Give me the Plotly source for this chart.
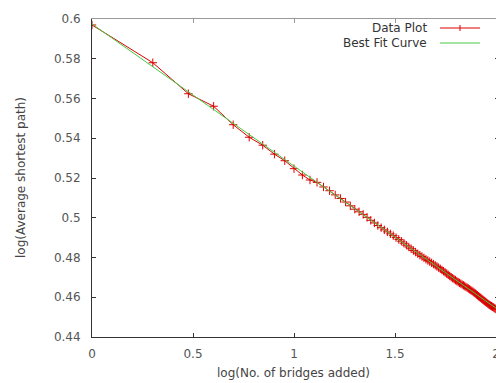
import numpy as np
import plotly.graph_objects as go

bridges = list(range(1, 101))
avg_path_log = [
    0.5970, 0.5780, 0.5624, 0.5561, 0.5468, 0.5405, 0.5365, 0.5320, 0.5287, 0.5247,
    0.5215, 0.5190, 0.5178, 0.5155, 0.5136, 0.5115, 0.5097, 0.5079, 0.5060, 0.5043,
    0.5030, 0.5017, 0.5002, 0.4987, 0.4974, 0.4961, 0.4950, 0.4939, 0.4929, 0.4919,
    0.4910, 0.4900, 0.4891, 0.4882, 0.4872, 0.4862, 0.4853, 0.4844, 0.4835, 0.4827,
    0.4819, 0.4812, 0.4805, 0.4798, 0.4791, 0.4785, 0.4779, 0.4773, 0.4767, 0.4761,
    0.4755, 0.4749, 0.4743, 0.4737, 0.4731, 0.4725, 0.4719, 0.4713, 0.4707, 0.4701,
    0.4696, 0.4691, 0.4686, 0.4681, 0.4676, 0.4672, 0.4668, 0.4664, 0.4660, 0.4656,
    0.4652, 0.4648, 0.4644, 0.4640, 0.4636, 0.4632, 0.4628, 0.4623, 0.4619, 0.4614,
    0.4610, 0.4605, 0.4601, 0.4597, 0.4592, 0.4588, 0.4584, 0.4580, 0.4576, 0.4572,
    0.4568, 0.4564, 0.4561, 0.4558, 0.4555, 0.4552, 0.4549, 0.4546, 0.4543, 0.4540,
]
fit_x = [0.0, 2.0]
fit_y = [0.5975, 0.4545]

x_ticks = [0, 0.5, 1, 1.5, 2]
x_tick_labels = ["0", "0.5", "1", "1.5", "2"]
y_ticks = [0.44, 0.46, 0.48, 0.5, 0.52, 0.54, 0.56, 0.58, 0.6]
y_tick_labels = ["0.44", "0.46", "0.48", "0.5", "0.52", "0.54", "0.56", "0.58", "0.6"]

RED = "#dd0000"
GREEN = "#44cc44"
FONT = "DejaVu Sans"

# figure slightly wider than the window so the right frame falls off-screen
FW, FH = 504, 383
L, T, R, B = 92, 19, 499, 337
PW, PH = R - L, B - T
X_MAX = 2 * PW / 404  # x=2 lands at pixel 496

data_x = np.log10(bridges)

fig = go.Figure()
fig.add_trace(go.Scatter(
    x=data_x, y=avg_path_log, mode="lines+markers", name="Data Plot",
    line=dict(color=RED, width=1),
    marker=dict(symbol="cross-thin", size=6, line=dict(color=RED, width=1)),
))
fig.add_trace(go.Scatter(
    x=fit_x, y=fit_y, mode="lines", name="Best Fit Curve",
    line=dict(color=GREEN, width=1),
))
fig.add_trace(go.Scatter(x=[0], y=[0.5], xaxis="x2", mode="none", showlegend=False,
                         hoverinfo="skip"))

fig.update_layout(
    width=FW, height=FH,
    margin=dict(l=L, r=FW - R, t=T, b=FH - B, autoexpand=False),
    paper_bgcolor="white", plot_bgcolor="white",
    showlegend=False,
    font=dict(family=FONT, size=12, color="#444"),
    xaxis=dict(
        range=[0, X_MAX], tickvals=x_ticks, ticktext=x_tick_labels, automargin=False,
        ticks="inside", ticklen=4, tickcolor="#333", showgrid=False, zeroline=False,
        showline=True, linecolor="#333", linewidth=1, ticklabelstandoff=6,
        tickfont=dict(family=FONT, size=12, color="#555"),
    ),
    xaxis2=dict(
        range=[0, X_MAX], overlaying="x", side="top", tickvals=x_ticks, automargin=False,
        showticklabels=False, ticks="inside", ticklen=4, tickcolor="#999",
        showgrid=False, zeroline=False, showline=True, linecolor="#999", linewidth=1,
    ),
    yaxis=dict(
        range=[0.44, 0.6], tickvals=y_ticks, ticktext=y_tick_labels, automargin=False,
        ticks="inside", ticklen=4, tickcolor="#333", showgrid=False, zeroline=False,
        showline=True, linecolor="#333", linewidth=1, mirror="ticks",
        ticklabelstandoff=8,
        tickfont=dict(family=FONT, size=12, color="#555"),
    ),
)

# axis titles
fig.add_annotation(xref="paper", yref="paper", x=(293 - L) / PW, y=(B - 373) / PH,
                   text="log(No. of bridges added)", showarrow=False,
                   xanchor="center", yanchor="middle",
                   font=dict(family=FONT, size=12, color="#444"))
fig.add_annotation(xref="paper", yref="paper", x=(21 - L) / PW, y=(B - 178) / PH,
                   text="log(Average shortest path)", showarrow=False, textangle=-90,
                   xanchor="center", yanchor="middle",
                   font=dict(family=FONT, size=12, color="#444"))

# manual legend (text right aligned, sample to the right)
legend_items = [("Data Plot", RED, 28, True), ("Best Fit Curve", GREEN, 43, False)]
for label, color, ypix, with_marker in legend_items:
    fig.add_annotation(xref="paper", yref="paper",
                       x=(429 - L) / PW, y=(B - ypix) / PH,
                       text=label, showarrow=False, xanchor="right", yanchor="middle",
                       font=dict(family=FONT, size=12, color="#333"))
    fig.add_shape(type="line", xref="paper", yref="paper",
                  x0=(440 - L) / PW, x1=(480 - L) / PW,
                  y0=(B - ypix) / PH, y1=(B - ypix) / PH,
                  line=dict(color=color, width=1))
    if with_marker:
        fig.add_shape(type="line", xref="paper", yref="paper",
                      x0=(460 - L) / PW, x1=(460 - L) / PW,
                      y0=(B - ypix - 3) / PH, y1=(B - ypix + 3) / PH,
                      line=dict(color=color, width=1))

fig.write_html("out.html", config={"displayModeBar": False},
               post_script="document.body.style.margin='0';document.body.style.overflow='hidden';")
